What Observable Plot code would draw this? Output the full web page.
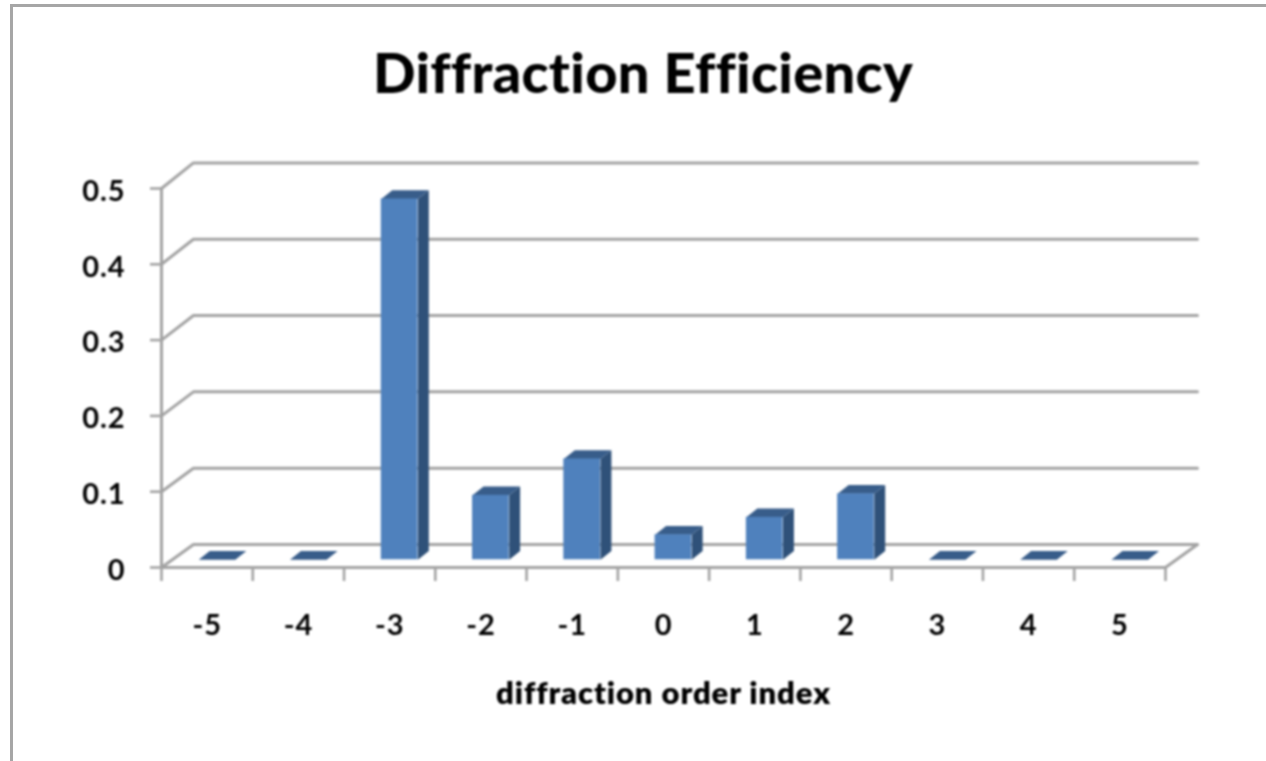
<!DOCTYPE html>
<html>
<head>
<meta charset="utf-8">
<script src="https://cdn.jsdelivr.net/npm/d3@7"></script>
<script src="https://cdn.jsdelivr.net/npm/@observablehq/plot@0.6"></script>
<style>
html,body{margin:0;padding:0;background:#fff;width:1266px;height:761px;overflow:hidden}
#frame{position:absolute;left:10px;top:4px;width:1256px;height:757px;box-sizing:border-box;border-left:3px solid #a6a6a6;border-top:3px solid #a6a6a6}
#title{position:absolute;left:0;top:0;width:1286px;height:130px;text-align:center;font:900 56px/144px Lato,sans-serif;color:#000;filter:blur(.8px);font-variant-ligatures:none;letter-spacing:.3px}
#chart{position:absolute;left:0;top:130px;filter:blur(.9px)}
svg{overflow:visible;display:block}
svg text{font-variant-ligatures:none;letter-spacing:.9px}
</style>
</head>
<body>
<div id="frame"></div>
<div id="title">Diffraction Efficiency</div>
<div id="chart"></div>
<script>
const orders = [-5,-4,-3,-2,-1,0,1,2,3,4,5];
const efficiency = [0,0,0.476,0.085,0.133,0.033,0.056,0.087,0,0,0];
const yTicks = [0,0.1,0.2,0.3,0.4,0.5];
const edges = [-5.5,-4.5,-3.5,-2.5,-1.5,-0.5,0.5,1.5,2.5,3.5,4.5,5.5];

// Depth of the pseudo-3D box and of the bars, in data units
const depthX = 0.35;
const wallY = v => v * 1.007 + 0.0303;
const barLeft = -0.092, barRight = 0.309, barDepthX = 0.12, barLiftY = 0.0102, barDepthY = 0.0115;

const bars = orders.map((o, i) => ({
  order: o, v: efficiency[i],
  x1: o + barLeft, x2: o + barRight,
  y1: barLiftY, y2: barLiftY + efficiency[i]
}));

const wallLines = yTicks.flatMap(t => [
  {k: t, x: -5.5, y: t},
  {k: t, x: -5.5 + depthX, y: wallY(t)},
  {k: t, x: 5.5 + depthX, y: wallY(t)}
]);
const floorFront = [
  {x: -5.5, y: 0.5}, {x: -5.5, y: 0}, {x: 5.5, y: 0}, {x: 5.5 + depthX, y: wallY(0)}
];
const sideFaces = bars.filter(b => b.v > 0).flatMap(b => [
  {k: b.order, x: b.x2, y: b.y1},
  {k: b.order, x: b.x2 + barDepthX, y: b.y1 + barDepthY},
  {k: b.order, x: b.x2 + barDepthX, y: b.y2 + barDepthY},
  {k: b.order, x: b.x2, y: b.y2}
]);
const topFaces = bars.flatMap(b => [
  {k: b.order, x: b.x1, y: b.y2},
  {k: b.order, x: b.x1 + barDepthX, y: b.y2 + barDepthY},
  {k: b.order, x: b.x2 + barDepthX, y: b.y2 + barDepthY},
  {k: b.order, x: b.x2, y: b.y2}
]);

const gridColor = "#a3a3a3";
const chart = Plot.plot({
  width: 1266,
  height: 631,
  marginLeft: 161,
  marginRight: 101,
  marginTop: 58,
  marginBottom: 194,
  style: {background: "transparent", color: "#000", fontFamily: "Lato, sans-serif"},
  x: {type: "linear", domain: [-5.5, 5.5]},
  y: {type: "linear", domain: [0, 0.5]},
  marks: [
    Plot.line(wallLines, {x: "x", y: "y", z: "k", stroke: gridColor, strokeWidth: 3}),
    Plot.line(floorFront, {x: "x", y: "y", stroke: gridColor, strokeWidth: 3}),
    Plot.axisY({ticks: yTicks, tickSize: 11, stroke: gridColor, strokeWidth: 2.6, tickFormat: () => "", label: null}),
    Plot.axisY({ticks: yTicks, tickSize: 0, tickPadding: 36, dy: 3, tickFormat: d => String(d), label: null, fontSize: 29, fontWeight: 700, fill: "#000"}),
    Plot.axisX({ticks: edges, tickSize: 14, tickFormat: () => "", label: null, stroke: gridColor, strokeWidth: 2.6}),
    Plot.axisX({ticks: orders, tickSize: 0, tickPadding: 47, tickFormat: d => String(d), label: null, fontSize: 29, fontWeight: 700, fill: "#000"}),
    Plot.line(sideFaces, {x: "x", y: "y", z: "k", fill: "#2f5179", stroke: "none"}),
    Plot.line(topFaces, {x: "x", y: "y", z: "k", fill: "#385d8a", stroke: "none"}),
    Plot.rect(bars, {x1: "x1", x2: "x2", y1: "y1", y2: "y2", fill: "#4f81bd"}),
    Plot.text(["diffraction order index"], {x: 0, y: 0, dy: 127, text: d => d, fontSize: 31, fontWeight: 800, fill: "#000", lineAnchor: "middle"})
  ]
});
document.getElementById("chart").append(chart);
</script>
</body>
</html>
